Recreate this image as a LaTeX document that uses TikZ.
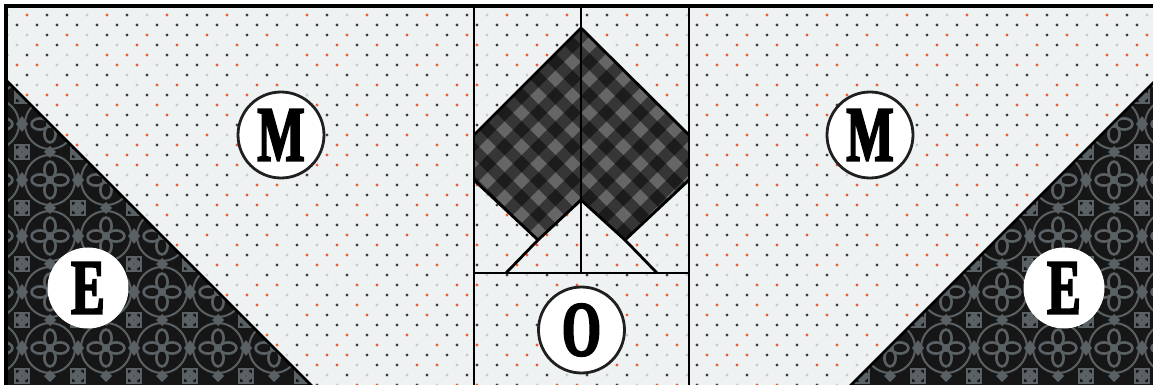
\documentclass[tikz,border=0pt]{standalone}
\usepackage{graphicx}
\usepackage{fontspec}
\usepackage{tikz}
\usetikzlibrary{calc}
\newfontfamily\keyfont{Liberation Serif}[FakeStretch=0.64,
  BoldFeatures={FakeStretch=0.64, FakeBold=2.5}]
\definecolor{fabbg}{HTML}{EEF2F3}
\definecolor{dotdark}{HTML}{3A3F44}
\definecolor{dotred}{HTML}{EE5A35}
\definecolor{dotgray}{HTML}{C5CBCF}
\definecolor{fabdark}{HTML}{161616}
\definecolor{flowerg}{HTML}{596165}
\definecolor{ginglt}{HTML}{666666}
\tikzset{
  frameln/.style ={draw=black, line width=1.6pt},
  seam/.style    ={draw=black, line width=1.4pt, line join=miter},
  keyc/.style    ={circle, fill=white, draw=black!88, line width=1.4pt, minimum size=43pt,
                   inner sep=0pt, font=\keyfont\bfseries\fontsize{39}{39}\selectfont},
  keyce/.style   ={keyc, draw=none, minimum size=40.5pt},
  petal/.style   ={draw=flowerg, line width=1.3pt},
  leaf/.style    ={fill=flowerg},
  gstripe/.style ={fill=black, opacity=.47},
}

\begin{document}
\begin{tikzpicture}[x=0.5pt, y=-0.5pt]
  \clip (0,0) rectangle (1153,385);
  \fill[white] (0,0) rectangle (1153,385);
  \fill[fabbg] (6,6) rectangle (1160,400);
  % small star dots of the light fabric
  \foreach \r in {0,...,38}{
    \foreach \c in {0,...,57}{
      \pgfmathtruncatemacro\k{mod(\c*7+\r*13+\c*\r*3,10)}
      \pgfmathsetmacro\dx{7+20*\c+10*mod(\r,2)}
      \pgfmathsetmacro\dy{15+10*\r}
      \ifnum\k<5 \def\dcol{dotdark}\else\ifnum\k<8 \def\dcol{dotred}\else\def\dcol{dotgray}\fi\fi
      \fill[\dcol] (\dx,\dy) circle (0.85pt);
    }
  }
  % dark floral triangles
  \begin{scope}
    \clip (6,80) -- (326,400) -- (6,400) -- cycle
          (1163,73) -- (841,395) -- (1163,395) -- cycle;
    \fill[fabdark] (0,60) rectangle (1160,400);
    \foreach \i in {0,...,6,15,16,...,21}{
      \foreach \j in {0,...,6}{
        \begin{scope}[shift={(\i*56-6,\j*56+12)}]
          \draw[petal] (0,-10) ellipse (2.8pt and 4.2pt);
          \draw[petal] (0,10) ellipse (2.8pt and 4.2pt);
          \draw[petal] (-10,0) ellipse (4.2pt and 2.8pt);
          \draw[petal] (10,0) ellipse (4.2pt and 2.8pt);
          \fill[flowerg] (0,0) circle (2pt);
          \draw[petal, line width=1pt] (0,0) circle (12.5pt);
          \fill[leaf] (28,-8) -- (34,0) -- (28,8) -- (22,0) -- cycle;
          \fill[leaf] (-6,28) -- (0,22) -- (6,28) -- (0,34) -- cycle;
          \draw[petal, line width=0.9pt] (21,21) rectangle (35,35);
          \fill[leaf] (28,24) circle (1.8pt) (28,32) circle (1.8pt)
                      (24,28) circle (1.8pt) (32,28) circle (1.8pt);
        \end{scope}
      }
    }
  \end{scope}
  % gingham halves
  \begin{scope}
    \clip (581,28) -- (474,135) -- (474,180) -- (538,240) -- (581,200) -- cycle
          (581,28) -- (689,135) -- (689,180) -- (625,240) -- (581,200) -- cycle;
    \fill[ginglt] (470,20) rectangle (695,245);
    \begin{scope}[shift={(581,28)}, rotate=45]
      \foreach \s in {-14,...,14}{
        \fill[gstripe] (\s*24,-400) rectangle ++(12,800);
        \fill[gstripe] (-400,\s*24) rectangle ++(800,12);
      }
    \end{scope}
  \end{scope}
  % seams
  \draw[seam] (6,80) -- (326,400);
  \draw[seam] (1163,73) -- (841,395);
  \draw[seam] (474,6) -- (474,400) (689,6) -- (689,400);
  \draw[seam] (581,6) -- (581,273) (474,273) -- (689,273);
  \draw[seam] (474,135) -- (581,28) -- (689,135);
  \draw[seam] (474,180) -- (538,240) -- (581,200) -- (625,240) -- (689,180);
  \draw[seam] (538,240) -- (506,273) (625,240) -- (657,273);
  \draw[frameln] (6,6) rectangle (1157,474);
  % fabric keys
  \node[keyc]  (mleft)  at (281,135)  {M};
  \node[keyc]  (mright) at (870,135)  {M};
  \node[keyc]  (omid)   at (581.5,330) {O};
  \node[keyce] (eleft)  at (88,288)   {E};
  \node[keyce] (eright) at (1064,288) {E};
\end{tikzpicture}
\end{document}
